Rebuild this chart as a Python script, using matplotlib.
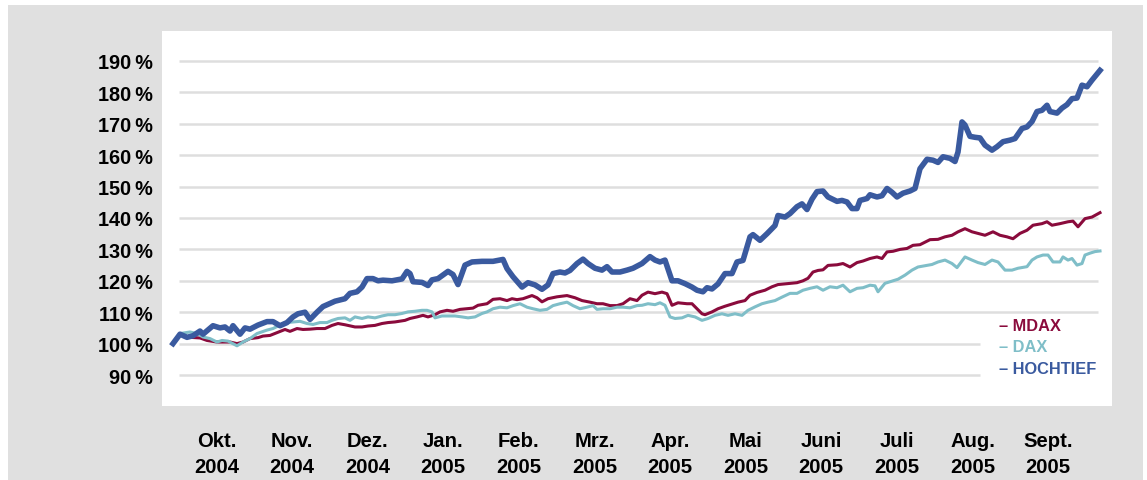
import matplotlib
matplotlib.use("Agg")
import matplotlib.pyplot as plt
from matplotlib.patches import Rectangle

plt.rcParams['font.family'] = ['Liberation Sans', 'DejaVu Sans']
plt.rcParams['font.weight'] = 'bold'

# ---- data (time axis in chart units, values in % of start) ----
hoch_t = [0, 7, 14, 20, 27, 30, 40, 47, 52, 57, 60, 67, 72, 77, 85, 94, 100, 107, 114, 120,
          125, 132, 137, 144, 150, 162, 172, 177, 184, 189, 194, 200, 205, 210, 219, 229, 234, 237, 240, 249,
          255, 259, 265, 275, 280, 285, 292, 299, 309, 320, 330, 334, 340, 349, 355, 362, 369, 375, 380, 387,
          392, 397, 404, 410, 415, 422, 429, 434, 439, 447, 454, 460, 469, 477, 482, 487, 492, 499, 505, 512,
          519, 524, 530, 534, 539, 545, 552, 559, 564, 570, 577, 580, 587, 594, 602, 605, 612, 617, 624, 629,
          634, 639, 644, 650, 655, 664, 669, 674, 679, 684, 687, 694, 697, 704, 709, 714, 719, 724, 730, 737,
          742, 747, 754, 760, 765, 770, 777, 782, 785, 789, 792, 797, 802, 807, 812, 819, 824, 830, 837, 842,
          849, 854, 859, 864, 869, 874, 877, 884, 889, 894, 899, 904, 909, 914, 919, 927]
hoch_v = [100, 103, 102, 102.5, 104, 103, 105.7, 105, 105.3, 104, 105.7, 103, 105, 104.6, 105.9, 107, 107, 105.7, 106.7, 108.5,
          109.5, 110, 107.7, 110, 111.8, 113.5, 114.3, 116, 116.5, 118, 120.7, 120.7, 120, 120.2, 120, 120.6, 123, 122.3, 119.7, 119.5,
          118.5, 120.3, 120.7, 123, 122, 118.8, 125, 126, 126.2, 126.2, 126.8, 123.9, 121.3, 118, 119.4, 118.7, 117.3, 118.7, 122.3, 122.8,
          122.5, 123.3, 125.5, 126.9, 125.5, 124, 123.4, 124.5, 122.8, 122.8, 123.4, 124, 125.5, 127.7, 126.6, 126, 126.6, 120, 120, 119.1,
          118, 117, 116.5, 117.8, 117.4, 119, 122.3, 122.3, 126, 126.5, 134, 134.7, 132.9, 135, 137.6, 140.8, 140.3, 141.4, 143.6, 144.5,
          142.7, 146, 148.4, 148.6, 146.7, 145.3, 145.6, 145.1, 143, 143, 145.6, 146.2, 147.4, 146.7, 147.1, 149.4, 148.2, 146.7, 147.9, 148.6,
          149.4, 155.7, 158.7, 158.4, 157.7, 159.5, 159, 158, 161, 170.6, 169.6, 166, 165.7, 165.5, 163.2, 161.6, 162.7, 164.3, 164.8, 165.3,
          168.5, 169, 170.7, 173.9, 174.3, 175.9, 173.9, 173.4, 175, 176.1, 178, 178.2, 182.3, 181.8, 183.9, 187]

mdax_t = [0, 7, 17, 27, 34, 44, 57, 64, 70, 77, 85, 90, 97, 104, 112, 117, 124, 130, 137, 144,
          152, 159, 165, 172, 182, 189, 195, 202, 209, 215, 222, 232, 237, 244, 250, 255, 262, 267, 274, 280,
          287, 294, 300, 305, 314, 320, 327, 334, 339, 344, 350, 359, 364, 369, 375, 384, 394, 402, 409, 417,
          424, 430, 437, 444, 450, 457, 464, 469, 475, 482, 489, 494, 499, 505, 514, 519, 524, 529, 532, 539,
          545, 552, 559, 565, 572, 577, 584, 592, 599, 605, 614, 624, 630, 635, 640, 645, 650, 655, 664, 670,
          677, 684, 690, 697, 704, 709, 714, 720, 727, 734, 740, 747, 752, 757, 765, 772, 779, 785, 792, 799,
          805, 812, 820, 827, 834, 840, 847, 854, 860, 869, 874, 879, 887, 895, 900, 905, 912, 919, 927]
mdax_v = [100, 102.9, 102, 101.8, 101, 100.5, 100.5, 100, 100.5, 101.6, 101.9, 102.4, 102.6, 103.5, 104.5, 103.9, 104.8, 104.5, 104.6, 104.8,
          104.8, 105.8, 106.4, 106, 105.3, 105.3, 105.6, 105.8, 106.4, 106.7, 106.9, 107.4, 108, 108.5, 109, 108.5, 109.2, 110.1, 110.6, 110.3,
          110.9, 111.1, 111.3, 112.2, 112.7, 114.1, 114.3, 113.7, 114.3, 114, 114.3, 115.3, 114.6, 113.3, 114.3, 114.9, 115.3, 114.6, 113.7, 113.2,
          112.7, 112.7, 112.1, 112.1, 112.7, 114.3, 113.7, 115.4, 116.4, 115.9, 116.4, 115.9, 112.2, 113, 112.7, 112.7, 111.1, 109.5, 109.2, 110.1,
          111.1, 111.9, 112.6, 113.2, 113.7, 115.4, 116.3, 117, 118.1, 118.8, 119.1, 119.4, 120, 120.8, 122.8, 123.3, 123.5, 124.9, 125.1, 125.5,
          124.4, 125.8, 126.3, 127.1, 127.6, 127.1, 129.2, 129.4, 130, 130.3, 131.3, 131.5, 132.3, 133.1, 133.2, 134, 134.5, 135.6, 136.6, 135.6,
          135.1, 134.5, 135.6, 134.5, 134, 133.4, 135.1, 136.1, 137.7, 138.2, 138.8, 137.7, 138.2, 138.8, 139, 137.2, 139.8, 140.3, 141.7]

dax_t = [0, 7, 17, 24, 30, 37, 44, 49, 55, 64, 70, 77, 84, 94, 100, 107, 114, 120, 127, 134,
         140, 147, 154, 159, 165, 172, 177, 182, 189, 195, 202, 209, 215, 222, 229, 235, 242, 249, 254, 259,
         262, 269, 275, 282, 289, 295, 302, 309, 314, 320, 327, 334, 340, 347, 354, 360, 367, 374, 380, 387,
         394, 400, 407, 414, 420, 424, 430, 437, 444, 450, 457, 464, 469, 475, 482, 487, 492, 497, 502, 509,
         515, 522, 529, 535, 542, 549, 555, 562, 569, 575, 582, 589, 595, 602, 609, 617, 624, 630, 637, 644,
         650, 657, 664, 670, 677, 684, 690, 697, 702, 705, 712, 719, 725, 732, 739, 745, 752, 759, 765, 772,
         779, 784, 792, 799, 805, 812, 819, 825, 832, 839, 845, 854, 859, 864, 870, 875, 880, 887, 890, 895,
         899, 904, 909, 912, 917, 922, 927]
dax_v = [100, 103.2, 103.7, 103.2, 102.1, 101.6, 100.5, 101, 100.8, 99.3, 100.5, 101.6, 103.2, 104.3, 104.8, 105.9, 106.7, 106.9, 107.1, 106.4,
         106.1, 106.7, 106.7, 107.4, 108, 108.2, 107.4, 108.5, 108, 108.5, 108.2, 108.8, 109.2, 109.2, 109.6, 110.1, 110.3, 110.6, 110.6, 110.1,
         108.2, 108.8, 108.8, 108.8, 108.5, 108.2, 108.5, 109.6, 110.1, 111.1, 111.6, 111.4, 112.1, 112.7, 111.6, 111.1, 110.6, 110.9, 112.1, 112.7,
         113.2, 112.1, 111.1, 111.6, 112.1, 110.9, 111.1, 111.1, 111.6, 111.6, 111.4, 112.1, 112.2, 112.7, 112.4, 113, 112.2, 108.5, 108, 108.2,
         109, 108.5, 107.4, 108, 109, 109.5, 109, 109.5, 109, 110.6, 111.7, 112.7, 113.2, 113.7, 114.8, 116, 116, 117, 117.6, 118.1,
         117, 118.1, 117.8, 118.6, 116.5, 117.6, 117.8, 118.6, 118.4, 116.5, 119.2, 119.9, 120.5, 121.8, 123.4, 124.4, 124.8, 125.2, 126, 126.6,
         125.5, 124.2, 127.6, 126.6, 125.8, 125.2, 126.6, 126, 123.4, 123.4, 124, 124.5, 126.6, 127.6, 128.2, 128.2, 126, 126, 127.6, 126.6,
         127.1, 125, 125.5, 128.2, 128.8, 129.3, 129.5]

month_pos = [43.5, 119.1, 194.7, 270.3, 345.9, 421.5, 497.1, 572.7, 648.3, 723.9, 799.5, 875.1]
month_labels = ["Okt.\n2004", "Nov.\n2004", "Dez.\n2004", "Jan.\n2005", "Feb.\n2005", "Mrz.\n2005",
                "Apr.\n2005", "Mai\n2005", "Juni\n2005", "Juli\n2005", "Aug.\n2005", "Sept.\n2005"]
y_ticks = [90, 100, 110, 120, 130, 140, 150, 160, 170, 180, 190]
y_labels = [f"{v}\u2009%" for v in y_ticks]

series_names = ["MDAX", "DAX", "HOCHTIEF"]
colors = {"MDAX": "#8a0b3c", "DAX": "#7fbec8", "HOCHTIEF": "#3a5a9f"}

# ---- figure ----
W, H = 1147, 481
fig = plt.figure(figsize=(W / 100, H / 100), dpi=100)
fig.patch.set_facecolor("white")
bg = Rectangle((8 / W, 0), (1143 - 8) / W, (481 - 6) / H,
               transform=fig.transFigure, facecolor="#e0e0e0",
               edgecolor="none", zorder=-10)
fig.patches.append(bg)

ax = fig.add_axes([162 / W, (H - 407) / H, (1112 - 162) / W, (407 - 32) / H])
ax.set_zorder(5)
ax.set_facecolor("white")
for s in ax.spines.values():
    s.set_visible(False)
ax.set_xlim(-11, 939)
ax.set_ylim(80.13, 199.55)

# gridlines
for v in y_ticks:
    right = 807 if v <= 100 else 925
    ax.hlines(v, 6, right, color="#dedede", lw=1.8, zorder=1)

ax.plot(mdax_t, mdax_v, color=colors["MDAX"], lw=2.2, zorder=3, solid_joinstyle="round")
ax.plot(dax_t, dax_v, color=colors["DAX"], lw=2.2, zorder=3, solid_joinstyle="round")
ax.plot(hoch_t, hoch_v, color=colors["HOCHTIEF"], lw=4.0, zorder=4, solid_joinstyle="round")

ax.set_yticks(y_ticks)
ax.set_yticklabels(y_labels, fontsize=14.3, fontweight="bold")
ax.set_xticks(month_pos)
ax.set_xticklabels(month_labels, fontsize=14.6, fontweight="bold", linespacing=1.45)
ax.tick_params(axis="y", length=0, pad=6.5)
ax.tick_params(axis="x", length=0, pad=18)

# legend as coloured text
leg_y = [326.5, 348, 369.5]
for name, yy in zip(series_names, leg_y):
    fig.text(999 / W, 1 - yy / H, "\u2013 " + name, color=colors[name], fontsize=11.8,
             fontweight="bold", ha="left", va="center", zorder=10)

fig.savefig("out.png", dpi=100)
